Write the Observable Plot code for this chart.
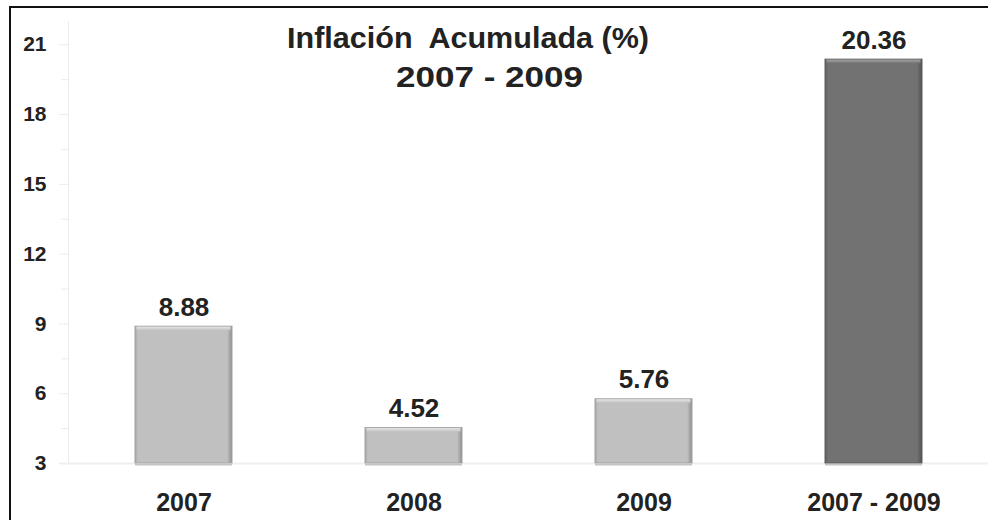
<!DOCTYPE html>
<html>
<head>
<meta charset="utf-8">
<script src="https://cdn.jsdelivr.net/npm/d3@7"></script>
<script src="https://cdn.jsdelivr.net/npm/@observablehq/plot@0.6"></script>
<style>
  html, body { margin: 0; padding: 0; background: #fff; }
  #chart { position: relative; width: 988px; height: 520px; overflow: hidden; }
  svg { font-family: "Liberation Sans", Arial, sans-serif; }
</style>
</head>
<body>
<div id="chart"></div>
<script>
const categories = ["2007", "2008", "2009", "2007 - 2009"];
const values = [8.88, 4.52, 5.76, 20.36];
const labels = ["8.88", "4.52", "5.76", "20.36"];
const yTicks = [3, 6, 9, 12, 15, 18, 21];
const yMinorTicks = [4.5, 7.5, 10.5, 13.5, 16.5, 19.5];
const titleLines = ["Inflación  Acumulada (%)", "2007 - 2009"];
const cumulativeCategory = "2007 - 2009";

const data = categories.map((c, i) => ({cat: c, value: values[i], label: labels[i]}));
const isCum = d => d.cat === cumulativeCategory;
const isYear = d => d.cat !== cumulativeCategory;

const font = "Liberation Sans, Arial, sans-serif";
const ink = "#222";

const chart = Plot.plot({
  width: 988,
  height: 520,
  marginLeft: 68,
  marginRight: 0,
  marginTop: 21,
  marginBottom: 57,
  style: {fontFamily: font, background: "#fff", overflow: "visible"},
  x: {domain: categories, paddingInner: 0.58, paddingOuter: 0.29, label: null},
  y: {domain: [3, 22], label: null},
  marks: [
    Plot.frame({anchor: "left", stroke: "#ececec", strokeWidth: 1}),
    Plot.axisY({ticks: yMinorTicks, tickSize: 7, text: null, stroke: "#ececec"}),
    Plot.axisY({ticks: yTicks, tickSize: 9, tickPadding: 13, stroke: "#ececec",
      fontSize: 22, fontWeight: "bold", fill: ink, tickFormat: d => String(d)}),
    Plot.ruleY([3], {stroke: "#efefef", strokeWidth: 2, insetLeft: -8}),
    // bars (light years)
    Plot.barY(data, {filter: isYear, x: "cat", y1: 3, y2: "value", fill: "url(#gLight)", stroke: "#a2a2a2", strokeWidth: 1}),
    Plot.barY(data, {filter: isYear, x: "cat", y1: "value", y2: "value", insetTop: 0.5, insetBottom: -4, insetLeft: 1.5, insetRight: 1.5, fill: "url(#gLightTop)"}),
    // cumulative bar (dark)
    Plot.barY(data, {filter: isCum, x: "cat", y1: 3, y2: "value", fill: "url(#gDark)", stroke: "#5e5e5e", strokeWidth: 1}),
    Plot.barY(data, {filter: isCum, x: "cat", y1: "value", y2: "value", insetTop: 0.5, insetBottom: -4, insetLeft: 1.5, insetRight: 1.5, fill: "url(#gDarkTop)"}),
    // bottom reflection line of bars
    Plot.barY(data, {x: "cat", y1: 3, y2: 3, insetTop: 1, insetBottom: -2.5, fill: "#c4c4c4"}),
    // value labels
    Plot.text(data, {x: "cat", y: "value", text: "label", dy: -11, lineAnchor: "bottom",
      fontSize: 26, fontWeight: "bold", fill: ink}),
    Plot.axisX({tickSize: 0, tickPadding: 30, fontSize: 25, fontWeight: "bold", fill: ink})
  ]
});

const svg = d3.select(chart);
svg.selectAll('g[aria-label="y-axis tick label"]').attr("font-size", 21).attr("font-weight", "bold");
svg.selectAll('g[aria-label="y-axis tick label"] text').attr("font-size", 21);

const defs = svg.insert("defs", ":first-child");
function hGrad(id, edgeL, mid, edgeR) {
  const g = defs.append("linearGradient").attr("id", id).attr("x1", 0).attr("x2", 1).attr("y1", 0).attr("y2", 0);
  g.append("stop").attr("offset", 0).attr("stop-color", edgeL);
  g.append("stop").attr("offset", 0.03).attr("stop-color", mid);
  g.append("stop").attr("offset", 0.95).attr("stop-color", mid);
  g.append("stop").attr("offset", 1).attr("stop-color", edgeR);
}
function vGrad(id, top, bottom) {
  const g = defs.append("linearGradient").attr("id", id).attr("x1", 0).attr("x2", 0).attr("y1", 0).attr("y2", 1);
  g.append("stop").attr("offset", 0).attr("stop-color", top);
  g.append("stop").attr("offset", 1).attr("stop-color", bottom);
}
hGrad("gLight", "#a6a6a6", "#c0c0c0", "#8e8e8e");
vGrad("gLightTop", "#e6e6e6", "#c2c2c2");
hGrad("gDark", "#5c5c5c", "#727272", "#505050");
vGrad("gDarkTop", "#a4a4a4", "#747474");

// title
svg.append("text").attr("x", 287).attr("y", 48).attr("text-anchor", "start")
  .attr("font-size", 30).attr("font-weight", "bold").attr("fill", ink)
  .attr("textLength", 362).attr("lengthAdjust", "spacingAndGlyphs")
  .style("white-space", "pre").attr("xml:space", "preserve")
  .text(titleLines[0]);
svg.append("text").attr("x", 396).attr("y", 87).attr("text-anchor", "start")
  .attr("font-size", 29).attr("font-weight", "bold").attr("fill", ink)
  .attr("textLength", 187).attr("lengthAdjust", "spacingAndGlyphs")
  .text(titleLines[1]);

// outer frame (top and left edges visible)
svg.append("path").attr("d", "M10,520V7H988").attr("fill", "none").attr("stroke", "#111").attr("stroke-width", 2);

document.getElementById("chart").append(chart);
</script>
</body>
</html>
